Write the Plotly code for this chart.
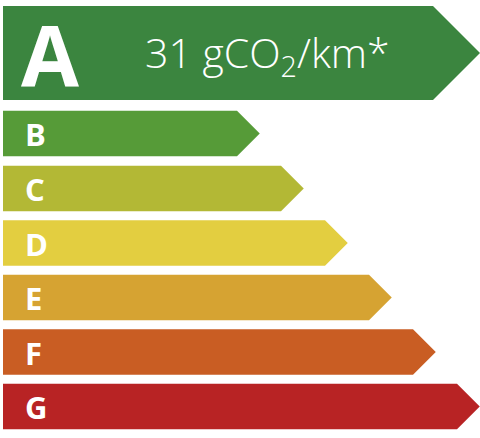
import plotly.graph_objects as go

# energy classes, top to bottom
classes = ["A", "B", "C", "D", "E", "F", "G"]
# length of each arrow body (px-like units from the left edge)
lengths = [430, 234, 278, 322, 366, 410, 454]
# vertical centre and thickness of each band
centers = [53, 133.5, 188.5, 243, 297.5, 352, 406.5]
heights = [94, 45.5, 45.5, 45.5, 45.5, 45.5, 45.5]
colors = ["#3b853f", "#569b38", "#b3b835", "#e3ce40", "#d6a332", "#c95d23", "#b82324"]
rating_label = "31 gCO<sub>2</sub>/km*"

fig = go.Figure()

for cls, length, yc, h, col in zip(classes, lengths, centers, heights, colors):
    y0, y1 = yc - h / 2, yc + h / 2
    tip = length + h / 2
    fig.add_trace(go.Scatter(
        x=[0, length, tip, length, 0, 0],
        y=[y0, y0, yc, y1, y1, y0],
        mode="lines", fill="toself", fillcolor=col,
        line=dict(width=0, color=col), hoverinfo="skip", showlegend=False,
    ))
    big = cls == "A"
    fig.add_annotation(
        x=16 if big else 20, y=yc + (0 if big else 0.5), text=cls,
        xanchor="left", yanchor="middle", showarrow=False,
        font=dict(family="Open Sans", size=84 if big else 31, color="white", weight="bold"),
    )

fig.add_annotation(
    x=264, y=centers[0] + 1, text=rating_label,
    xanchor="center", yanchor="middle", showarrow=False,
    font=dict(family="Open Sans", size=41, color="white", weight=300),
)

fig.update_layout(
    width=480, height=438,
    margin=dict(l=0, r=0, t=0, b=0),
    paper_bgcolor="white", plot_bgcolor="white",
    xaxis=dict(range=[-3, 477], visible=False, fixedrange=True),
    yaxis=dict(range=[438, 0], visible=False, fixedrange=True),
)

# the page's default body margin would push the label 8px off
fig.write_html("out.html", config={"displayModeBar": False},
               post_script="document.body.style.margin='0';")
